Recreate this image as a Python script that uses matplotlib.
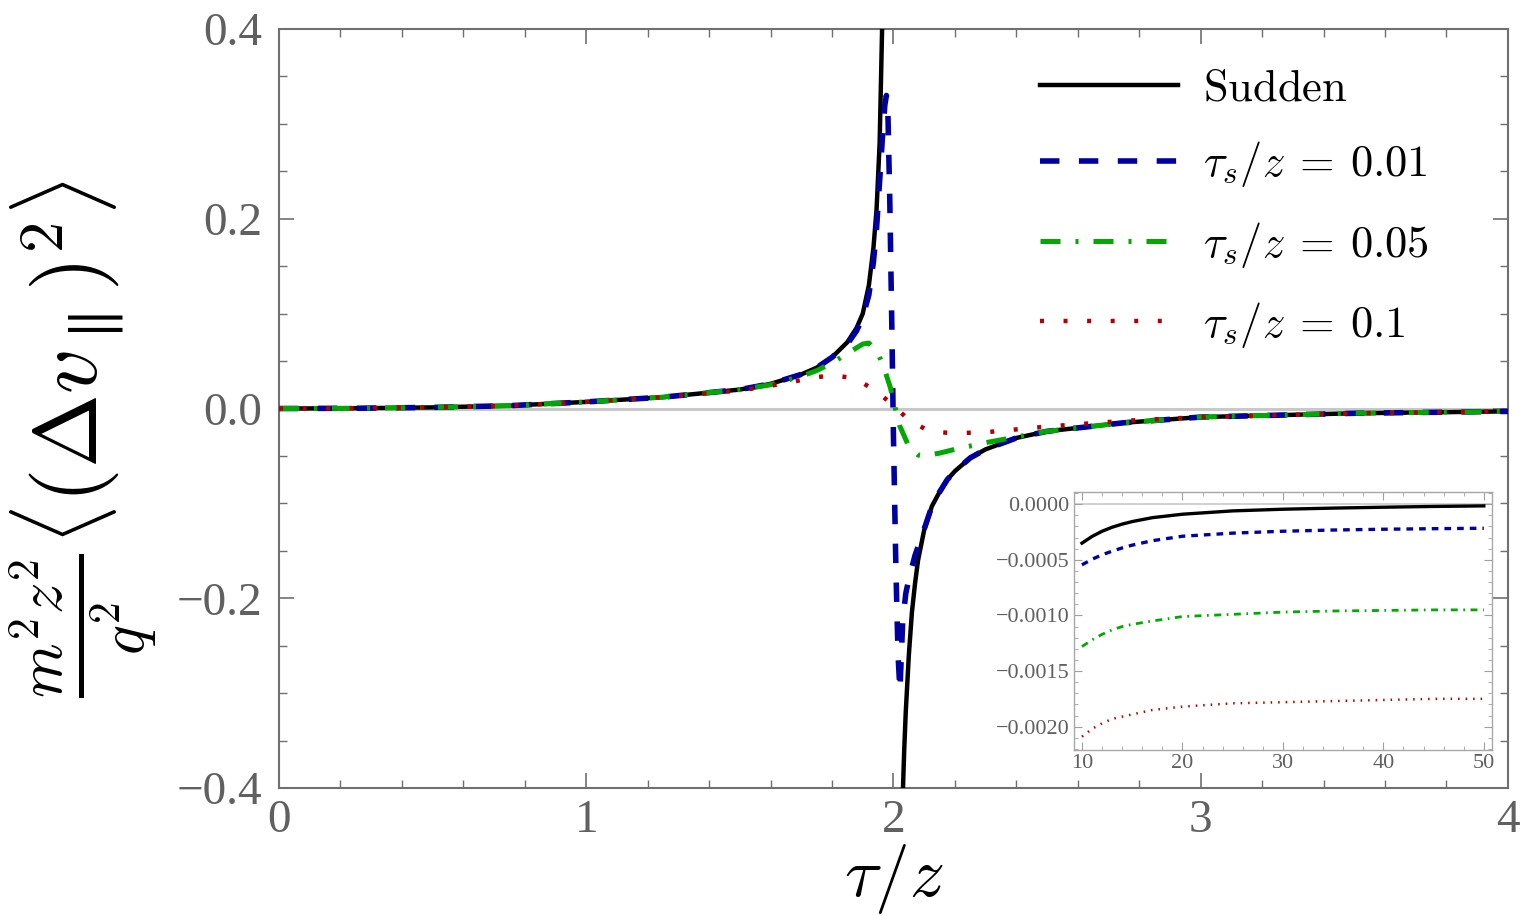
import numpy as np
import matplotlib
matplotlib.use('Agg')
import matplotlib.pyplot as plt
from matplotlib.ticker import MultipleLocator, FuncFormatter

plt.rcParams['mathtext.fontset'] = 'cm'
plt.rcParams['font.family'] = ['Liberation Serif', 'DejaVu Serif']

# main panel, tau/z
sudden_x = [0, 0.25, 0.5, 0.75, 1.0, 1.25, 1.5, 1.6, 1.7, 1.75, 1.8, 1.85, 1.88, 1.9,
            1.92, 1.935, 1.945, 1.955, 1.963, 1.97, np.nan,
            2.025, 2.031, 2.035, 2.04, 2.05, 2.06, 2.07, 2.08, 2.1, 2.125, 2.15, 2.175,
            2.2, 2.25, 2.3, 2.4, 2.5, 2.75, 3.0, 3.25, 3.5, 3.75, 4.0]
sudden_y = [0, 0.0003, 0.0012, 0.003, 0.007, 0.012, 0.02, 0.026, 0.036, 0.043, 0.054, 0.07,
            0.085, 0.1, 0.13, 0.17, 0.21, 0.28, 0.40, 0.47, np.nan,
            -0.47, -0.40, -0.36, -0.32, -0.26, -0.215, -0.185, -0.16, -0.128, -0.103,
            -0.088, -0.075, -0.066, -0.052, -0.043, -0.031, -0.024, -0.015, -0.009,
            -0.007, -0.005, -0.004, -0.003]

ts001_x = [0, 0.25, 0.5, 0.75, 1.0, 1.25, 1.5, 1.6, 1.7, 1.75, 1.8, 1.85, 1.88, 1.9,
           1.92, 1.935, 1.945, 1.955, 1.965, 1.972, 1.977, 1.982, 1.988, 1.995, 2.0,
           2.008, 2.015, 2.021, 2.025, 2.03, 2.04, 2.05, 2.07, 2.1, 2.125, 2.15, 2.175,
           2.2, 2.25, 2.3, 2.4, 2.5, 2.75, 3.0, 3.25, 3.5, 3.75, 4.0]
ts001_y = [0, 0.0003, 0.0012, 0.003, 0.007, 0.012, 0.02, 0.026, 0.036, 0.043, 0.054, 0.068,
           0.082, 0.096, 0.12, 0.155, 0.19, 0.24, 0.29, 0.32, 0.33, 0.31, 0.22, 0.08, -0.03,
           -0.17, -0.26, -0.297, -0.265, -0.225, -0.195, -0.18, -0.155, -0.127, -0.103,
           -0.088, -0.075, -0.066, -0.052, -0.043, -0.031, -0.024, -0.015, -0.009,
           -0.007, -0.005, -0.004, -0.003]

ts005_x = [0, 0.25, 0.5, 0.75, 1.0, 1.25, 1.5, 1.6, 1.7, 1.75, 1.8, 1.85, 1.9, 1.92,
           1.95, 1.97, 1.99, 2.0, 2.02, 2.05, 2.08, 2.1, 2.15, 2.2, 2.3, 2.4, 2.5,
           2.75, 3.0, 3.25, 3.5, 3.75, 4.0]
ts005_y = [0, 0.0003, 0.0012, 0.003, 0.007, 0.012, 0.02, 0.025, 0.034, 0.04, 0.048, 0.058,
           0.068, 0.069, 0.058, 0.042, 0.022, 0.008, -0.018, -0.04, -0.049, -0.05, -0.047,
           -0.043, -0.036, -0.03, -0.024, -0.015, -0.009, -0.007, -0.005, -0.004, -0.003]

ts01_x = [0, 0.25, 0.5, 0.75, 1.0, 1.25, 1.5, 1.6, 1.7, 1.75, 1.8, 1.85, 1.9, 1.95,
          2.0, 2.05, 2.1, 2.15, 2.2, 2.3, 2.4, 2.5, 2.75, 3.0, 3.25, 3.5, 3.75, 4.0]
ts01_y = [0, 0.0003, 0.0012, 0.003, 0.007, 0.012, 0.019, 0.024, 0.03, 0.033, 0.035, 0.033,
          0.027, 0.017, 0.003, -0.012, -0.021, -0.025, -0.026, -0.025, -0.022, -0.019,
          -0.013, -0.009, -0.007, -0.005, -0.004, -0.003]

# inset, large tau/z
in_x = [10, 11, 12, 13, 14, 15, 17, 20, 25, 30, 35, 40, 45, 50]
in_sudden = [-0.00035, -0.00029, -0.000243, -0.000207, -0.000179, -0.000156, -0.000121,
             -0.00009, -0.00006, -0.000045, -0.000035, -0.000027, -0.00002, -0.000015]
in_ts001 = [-0.000545, -0.000495, -0.000455, -0.000422, -0.000393, -0.000368, -0.000328,
            -0.000288, -0.00026, -0.000243, -0.000232, -0.000225, -0.00022, -0.000216]
in_ts005 = [-0.00128, -0.00122, -0.00117, -0.00113, -0.0011, -0.00108, -0.00105,
            -0.00101, -0.00099, -0.00097, -0.00096, -0.000955, -0.00095, -0.00095]
in_ts01 = [-0.00209, -0.00202, -0.00197, -0.00193, -0.00191, -0.00189, -0.00185,
           -0.00182, -0.00179, -0.00178, -0.00177, -0.00176, -0.00175, -0.00175]

labels = [r'$\mathrm{Sudden}$', r'$\tau_s/z\:=\:0.01$', r'$\tau_s/z\:=\:0.05$',
          r'$\tau_s/z\:=\:0.1$']
colors = ['black', '#0000a0', '#00a800', '#b00000']

frame_col = '#707070'
tick_col = '#606060'


def minus_fmt(fmt):
    return FuncFormatter(lambda v, p: (fmt % v).replace('-', '\u2212'))


fig = plt.figure(figsize=(15.32, 9.16), dpi=100)
ax = fig.add_axes([0.1821, 0.1397, 0.8022, 0.8286])

ax.axhline(0, color='#c8c8c8', lw=2.2, zorder=1)
ax.plot(sudden_x, sudden_y, color=colors[0], lw=3.2, label=labels[0], zorder=3)
ax.plot(ts001_x, ts001_y, color=colors[1], lw=4.0, dashes=(3.5, 3.5), label=labels[1], zorder=4)
ax.plot(ts005_x, ts005_y, color=colors[2], lw=3.6, dashes=(4, 3, 0.6, 3), label=labels[2], zorder=5)
ax.plot(ts01_x, ts01_y, color=colors[3], lw=3.2, dashes=(0.9, 4.4), label=labels[3], zorder=6)

ax.set_xlim(0, 4)
ax.set_ylim(-0.4, 0.4)
ax.xaxis.set_major_locator(MultipleLocator(1))
ax.xaxis.set_minor_locator(MultipleLocator(0.2))
ax.yaxis.set_major_locator(MultipleLocator(0.2))
ax.yaxis.set_minor_locator(MultipleLocator(0.05))
ax.xaxis.set_major_formatter(minus_fmt('%d'))
ax.yaxis.set_major_formatter(minus_fmt('%.1f'))
ax.tick_params(which='both', direction='in', top=True, right=True, color=frame_col,
               labelcolor=tick_col, labelsize=34)
ax.tick_params(axis='y', pad=12)
ax.tick_params(axis='x', pad=8)
ax.tick_params(which='major', length=11, width=1.2)
ax.tick_params(which='minor', length=6, width=1.0)
for s in ax.spines.values():
    s.set_color(frame_col)
    s.set_linewidth(1.5)

ax.set_xlabel(r'$\tau/z$', fontsize=50, labelpad=0)
ax.set_ylabel(r'$\frac{m^2 z^2}{q^2}\langle(\Delta v_{\parallel})^2\rangle$', fontsize=64)
ax.yaxis.set_label_coords(-0.097, 0.46)

leg = ax.legend(loc='upper right', bbox_to_anchor=(0.968, 1.0), frameon=False, fontsize=32,
                handlelength=3.1, handletextpad=0.55, labelspacing=0.68)

# inset
ins = fig.add_axes([0.701, 0.1812, 0.2728, 0.2817])
ins.axhline(0, color='#c8c8c8', lw=1.2, zorder=1)
ins.plot(in_x, in_sudden, color=colors[0], lw=2.4)
ins.plot(in_x, in_ts001, color=colors[1], lw=2.4, dashes=(2.0, 1.8))
ins.plot(in_x, in_ts005, color=colors[2], lw=2.0, dashes=(2.5, 2.0, 0.6, 2.0))
ins.plot(in_x, in_ts01, color=colors[3], lw=1.8, dashes=(0.6, 2.4))
ins.set_xlim(9.2, 50.8)
ins.set_ylim(-0.00221, 0.00011)
ins.xaxis.set_major_locator(MultipleLocator(10))
ins.xaxis.set_minor_locator(MultipleLocator(2))
ins.yaxis.set_major_locator(MultipleLocator(0.0005))
ins.yaxis.set_minor_locator(MultipleLocator(0.0001))
ins.xaxis.set_major_formatter(minus_fmt('%d'))
ins.yaxis.set_major_formatter(minus_fmt('%.4f'))
ins.tick_params(which='both', direction='in', top=True, right=True, color='#a0a0a0',
                labelcolor=tick_col, labelsize=16, pad=3)
ins.tick_params(which='major', length=6, width=0.8)
ins.tick_params(which='minor', length=3, width=0.6)
for s in ins.spines.values():
    s.set_color('#a8a8a8')
    s.set_linewidth(1.0)

fig.savefig('out.png', dpi=100)
